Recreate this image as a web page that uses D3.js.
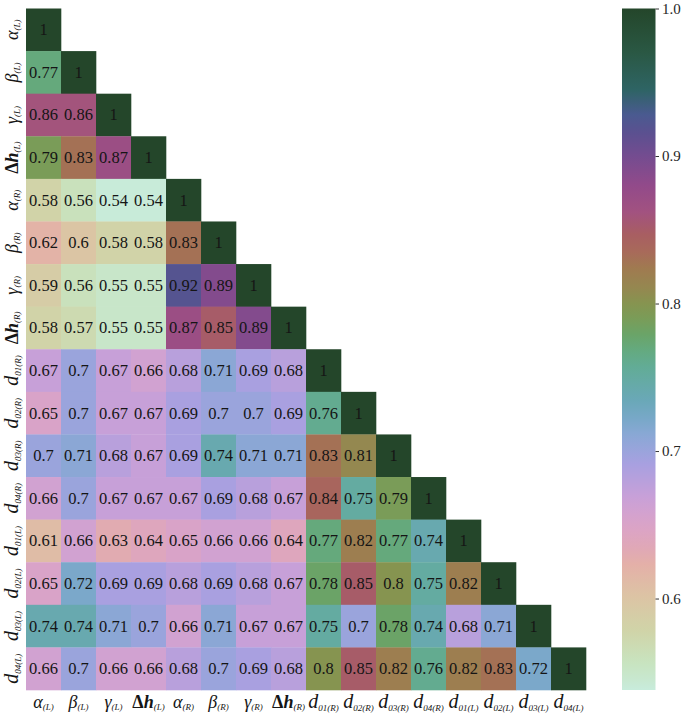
<!DOCTYPE html>
<html><head><meta charset="utf-8">
<script src="https://cdn.jsdelivr.net/npm/d3@7"></script>
<style>body{margin:0;background:#fff} svg{display:block}</style>
</head><body>
<svg id="c" width="685" height="717"></svg>
<script>
// ---- data ----
const labelBase = ["α","β","γ","Δh","α","β","γ","Δh","d","d","d","d","d","d","d","d"];
const labelSub  = ["(L)","(L)","(L)","(L)","(R)","(R)","(R)","(R)",
                   "01(R)","02(R)","03(R)","04(R)","01(L)","02(L)","03(L)","04(L)"];
const rows = [
  [1],
  [0.77,1],
  [0.86,0.86,1],
  [0.79,0.83,0.87,1],
  [0.58,0.56,0.54,0.54,1],
  [0.62,0.6,0.58,0.58,0.83,1],
  [0.59,0.56,0.55,0.55,0.92,0.89,1],
  [0.58,0.57,0.55,0.55,0.87,0.85,0.89,1],
  [0.67,0.7,0.67,0.66,0.68,0.71,0.69,0.68,1],
  [0.65,0.7,0.67,0.67,0.69,0.7,0.7,0.69,0.76,1],
  [0.7,0.71,0.68,0.67,0.69,0.74,0.71,0.71,0.83,0.81,1],
  [0.66,0.7,0.67,0.67,0.67,0.69,0.68,0.67,0.84,0.75,0.79,1],
  [0.61,0.66,0.63,0.64,0.65,0.66,0.66,0.64,0.77,0.82,0.77,0.74,1],
  [0.65,0.72,0.69,0.69,0.68,0.69,0.68,0.67,0.78,0.85,0.8,0.75,0.82,1],
  [0.74,0.74,0.71,0.7,0.66,0.71,0.67,0.67,0.75,0.7,0.78,0.74,0.68,0.71,1],
  [0.66,0.7,0.66,0.66,0.68,0.7,0.69,0.68,0.8,0.85,0.82,0.76,0.82,0.83,0.72,1]
];
const cbTicks = [0.6,0.7,0.8,0.9,1.0];
const vmin = 0.538, vmax = 1.0;

// ---- colormap: cubehelix-like stops ----
const cmapStops = [
  [0.538,"#c8ecdc"],[0.545,"#c8e8d0"],[0.556,"#c8e4c0"],[0.567,"#ccdcb4"],
  [0.578,"#d0d4a8"],[0.590,"#d6cca6"],[0.601,"#dcc4a4"],[0.612,"#e0baa6"],
  [0.623,"#e4b0a8"],[0.634,"#e0a8b6"],[0.646,"#dca4c4"],[0.657,"#d4a2ce"],
  [0.669,"#c8a0d8"],[0.680,"#b8a0dc"],[0.691,"#a8a0e0"],[0.700,"#9aa4dc"],
  [0.712,"#88a8d4"],[0.722,"#78a8c8"],[0.734,"#6aa8b8"],[0.745,"#66aaa8"],
  [0.757,"#62ac96"],[0.768,"#64aa80"],[0.779,"#6aa468"],[0.790,"#7a9c58"],
  [0.800,"#869450"],[0.810,"#948850"],[0.824,"#a07a50"],[0.835,"#a86a5a"],
  [0.847,"#a85e62"],[0.862,"#a25280"],[0.880,"#924a8a"],[0.900,"#744c90"],
  [0.915,"#5c5090"],[0.928,"#4a5a90"],[0.945,"#2e6464"],[0.970,"#2a5844"],
  [1.000,"#24462a"]
];
const color = d3.scaleLinear()
  .domain(cmapStops.map(d=>d[0])).range(cmapStops.map(d=>d[1]))
  .interpolate(d3.interpolateRgb).clamp(true);

// ---- layout ----
const svg = d3.select("#c");
const n = labelBase.length;
const x = d3.scaleBand().domain(d3.range(n)).range([26, 586]);
const y = d3.scaleBand().domain(d3.range(n)).range([8.5, 690]);
const serif = "'Liberation Serif','Times New Roman',Times,serif";

const cells = [];
rows.forEach((r,i)=> r.forEach((v,j)=> cells.push({i,j,v})));

svg.append("g").selectAll("rect").data(cells).join("rect")
  .attr("x", d=>x(d.j)).attr("y", d=>y(d.i))
  .attr("width", x.bandwidth()+0.3).attr("height", y.bandwidth()+0.3)
  .attr("fill", d=>color(d.v));

svg.append("g").selectAll("text").data(cells).join("text")
  .attr("x", d=>x(d.j)+x.bandwidth()/2).attr("y", d=>y(d.i)+y.bandwidth()/2)
  .attr("text-anchor","middle").attr("dominant-baseline","central")
  .style("font-family",serif)
  .style("font-size","16.5px").attr("fill","#151515")
  .text(d=>String(d.v));

// ---- tick labels ----
function fillLabel(sel){
  sel.each(function(i){
    const t = d3.select(this);
    t.text(null);
    const base = labelBase[i];
    const isD = base === "d";
    if(base === "Δh"){
      t.append("tspan").text("Δ").style("font-size","18px").style("font-weight","bold");
      t.append("tspan").text("h").style("font-size","18px").style("font-style","italic").style("font-weight","bold");
    } else {
      t.append("tspan").text(base).style("font-size", isD ? "20px" : "18px").style("font-style","italic");
    }
    t.append("tspan").text(labelSub[i]).attr("dy", isD ? 3 : 2)
      .style("font-size","9px").style("font-style","italic");
  });
}

const xAxis = d3.axisBottom(x).tickSize(0).tickFormat("");
const gx = svg.append("g").attr("transform","translate(0,690)").call(xAxis);
gx.select(".domain").remove();
gx.selectAll(".tick text").remove();
gx.selectAll(".tick").append("text")
  .attr("y", 18).attr("text-anchor","middle").attr("fill","#151515")
  .style("font-family",serif)
  .call(fillLabel);

const yAxis = d3.axisLeft(y).tickSize(0).tickFormat("");
const gy = svg.append("g").attr("transform","translate(26,0)").call(yAxis);
gy.select(".domain").remove();
gy.selectAll(".tick text").remove();
gy.selectAll(".tick").append("text")
  .attr("transform","translate(-8,0) rotate(-90)")
  .attr("text-anchor","middle").attr("fill","#151515")
  .style("font-family",serif)
  .call(fillLabel);

// ---- colorbar ----
const cbX = 622, cbW = 33.5;
const cb = d3.scaleLinear().domain([vmin, vmax]).range([690, 8.5]);
const defs = svg.append("defs");
const grad = defs.append("linearGradient").attr("id","cbg")
  .attr("x1",0).attr("y1",1).attr("x2",0).attr("y2",0);
cmapStops.forEach(([v,c])=>{
  grad.append("stop").attr("offset", (v-vmin)/(vmax-vmin)).attr("stop-color", c);
});
svg.append("rect").attr("x",cbX).attr("y",cb(vmax)).attr("width",cbW)
  .attr("height", cb(vmin)-cb(vmax)).attr("fill","url(#cbg)");
const cbAxis = d3.axisRight(cb).tickValues(cbTicks).tickFormat(d3.format(".1f")).tickSize(3.5).tickPadding(3);
const gcb = svg.append("g").attr("transform",`translate(${cbX+cbW},0)`).call(cbAxis);
gcb.select(".domain").remove();
gcb.selectAll(".tick line").attr("stroke","#333");
gcb.selectAll(".tick text").attr("fill","#262626")
  .style("font-family",serif).style("font-size","15px");
</script>
</body></html>
